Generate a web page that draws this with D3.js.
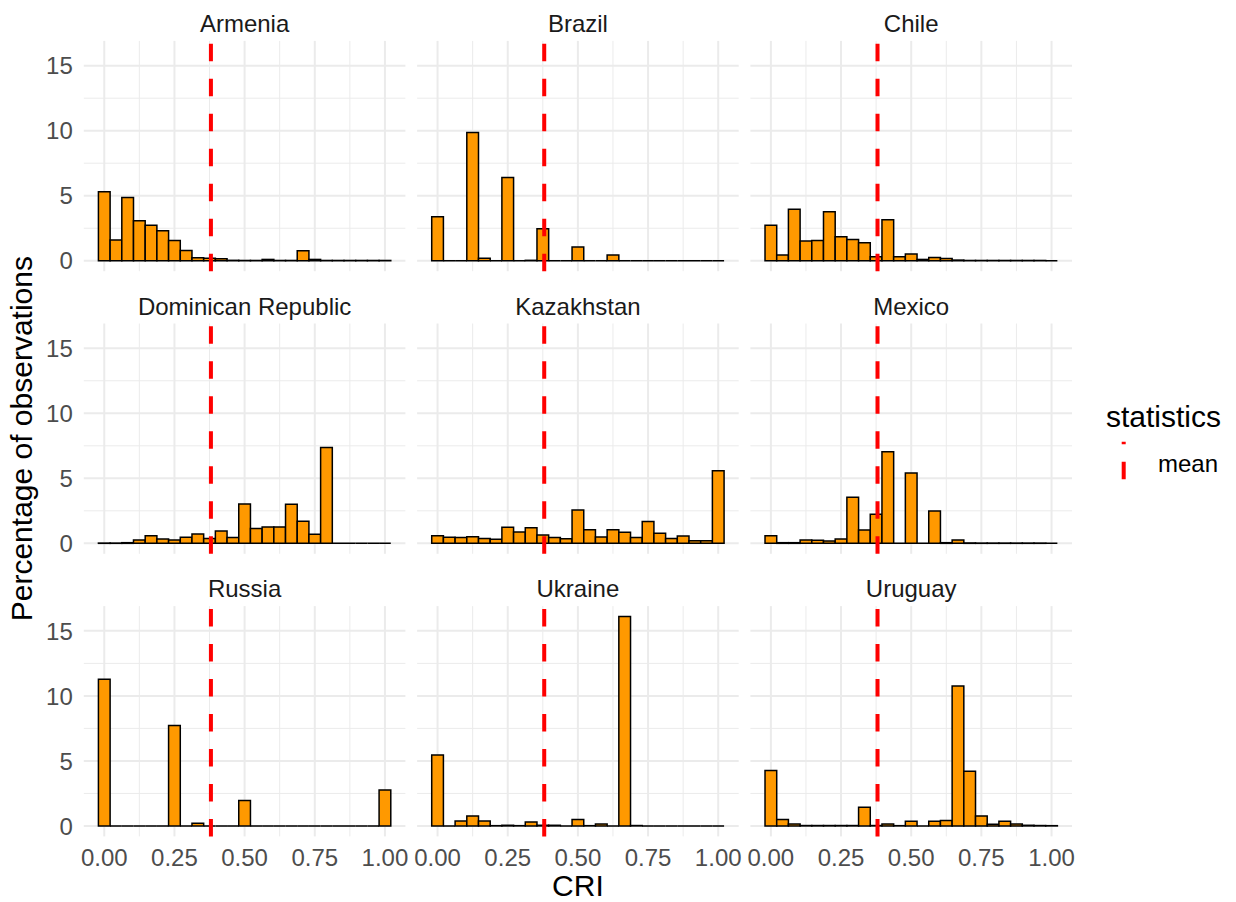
<!DOCTYPE html>
<html>
<head>
<meta charset="utf-8">
<script src="https://cdn.jsdelivr.net/npm/d3@7"></script>
<style>
  html, body { margin: 0; padding: 0; background: #fff; }
  text { font-family: "Liberation Sans", Arial, Helvetica, sans-serif; }
</style>
</head>
<body>
<svg id="chart" width="1236" height="902"></svg>
<script>
// Percentage of observations per CRI bin (25 bins, centred on 0, 1/24, ..., 1)
const countries = ["Armenia", "Brazil", "Chile", "Dominican Republic", "Kazakhstan", "Mexico", "Russia", "Ukraine", "Uruguay"];

const armenia    = [5.3, 1.6, 4.87, 3.08, 2.72, 2.31, 1.56, 0.79, 0.22, 0.2, 0.15, 0.03, 0.02, 0.02, 0.1, 0.02, 0.02, 0.77, 0.1, 0.02, 0.02, 0.02, 0.02, 0.02, 0.02];
const brazil     = [3.38, 0, 0, 9.87, 0.2, 0, 6.41, 0, 0.03, 2.46, 0, 0, 1.05, 0, 0, 0.44, 0, 0, 0, 0, 0, 0, 0, 0, 0];
const chile      = [2.72, 0.44, 3.95, 1.51, 1.56, 3.77, 1.85, 1.64, 1.38, 0.3, 3.15, 0.3, 0.51, 0.1, 0.25, 0.18, 0.05, 0.02, 0.02, 0.02, 0.02, 0.02, 0.02, 0.02, 0];
const dominican  = [0.02, 0.02, 0.05, 0.26, 0.59, 0.33, 0.26, 0.46, 0.72, 0.38, 0.95, 0.44, 3.03, 1.15, 1.26, 1.26, 3.0, 1.69, 0.69, 7.36, 0, 0, 0, 0, 0];
const kazakhstan = [0.59, 0.46, 0.44, 0.51, 0.38, 0.31, 1.23, 0.87, 1.2, 0.64, 0.44, 0.36, 2.56, 1.05, 0.49, 1.05, 0.85, 0.44, 1.67, 0.77, 0.38, 0.56, 0.2, 0.2, 5.59];
const mexico     = [0.59, 0.05, 0.05, 0.26, 0.23, 0.18, 0.33, 3.54, 1.03, 2.23, 7.05, 0, 5.41, 0, 2.49, 0.05, 0.26, 0.03, 0.02, 0.02, 0.02, 0.02, 0.02, 0.02, 0];
const russia     = [11.28, 0, 0, 0, 0, 0, 7.72, 0, 0.2, 0, 0, 0, 1.95, 0, 0, 0, 0, 0, 0, 0, 0, 0, 0, 0, 2.77];
const ukraine    = [5.46, 0, 0.38, 0.77, 0.38, 0.02, 0.05, 0.02, 0.31, 0.05, 0.05, 0, 0.49, 0.02, 0.15, 0, 16.1, 0.03, 0, 0, 0, 0, 0, 0, 0];
const uruguay    = [4.26, 0.49, 0.15, 0.03, 0.03, 0.03, 0.03, 0.03, 1.44, 0.03, 0.15, 0.02, 0.36, 0, 0.36, 0.41, 10.77, 4.2, 0.77, 0.13, 0.36, 0.15, 0.05, 0.03, 0.02];

const series = [armenia, brazil, chile, dominican, kazakhstan, mexico, russia, ukraine, uruguay];
const meanCRI = 0.38;
const nBins = 25;

const xTicks = [0, 0.25, 0.5, 0.75, 1];
const xMinor = [0.125, 0.375, 0.625, 0.875];
const yTicks = [0, 5, 10, 15];
const yMinor = [2.5, 7.5, 12.5];

const W = 1236, H = 902;
const panelW = 321.6, panelH = 230.3;
const colX = [83.8, 417.1, 750.4];
const rowY = [40.9, 323.5, 606.1];

const FILL = "#FF9900", GRID = "#EBEBEB";

const svg = d3.select("#chart");

const binW = 1 / (nBins - 1);
const lo = -binW / 2, hi = 1 + binW / 2, padX = 0.05 * (hi - lo);
const x = d3.scaleLinear().domain([lo - padX, hi + padX]).range([0, panelW]);

const yMax = d3.max(series, s => d3.max(s));
const y = d3.scaleLinear().domain([-0.05 * yMax, 1.05 * yMax]).range([panelH, 0]);

countries.forEach((name, i) => {
  const col = i % 3, row = Math.floor(i / 3);
  const g = svg.append("g").attr("transform", `translate(${colX[col]},${rowY[row]})`);

  // grid
  g.selectAll(".ymin").data(yMinor).join("line")
    .attr("x1", 0).attr("x2", panelW).attr("y1", d => y(d)).attr("y2", d => y(d))
    .attr("stroke", GRID).attr("stroke-width", 1);
  g.selectAll(".xmin").data(xMinor).join("line")
    .attr("y1", 0).attr("y2", panelH).attr("x1", d => x(d)).attr("x2", d => x(d))
    .attr("stroke", GRID).attr("stroke-width", 1);
  g.append("g").selectAll("line").data(yTicks).join("line")
    .attr("x1", 0).attr("x2", panelW).attr("y1", d => y(d)).attr("y2", d => y(d))
    .attr("stroke", GRID).attr("stroke-width", 2);
  g.append("g").selectAll("line").data(xTicks).join("line")
    .attr("y1", 0).attr("y2", panelH).attr("x1", d => x(d)).attr("x2", d => x(d))
    .attr("stroke", GRID).attr("stroke-width", 2);

  // bars (paths so empty bins still show their outline)
  g.append("g").selectAll("path").data(series[i]).join("path")
    .attr("d", (v, k) => {
      const x0 = x(k * binW - binW / 2), x1 = x(k * binW + binW / 2);
      return `M${x0},${y(0)}V${y(v)}H${x1}V${y(0)}Z`;
    })
    .attr("fill", FILL).attr("stroke", "#000").attr("stroke-width", 1.5)
    .attr("stroke-linejoin", "miter");

  // mean line
  g.append("line")
    .attr("x1", x(meanCRI)).attr("x2", x(meanCRI))
    .attr("y1", panelH).attr("y2", 0)
    .attr("stroke", "#FF0000").attr("stroke-width", 4)
    .attr("stroke-dasharray", "17.5,17.5");

  // strip
  g.append("text")
    .attr("x", panelW / 2).attr("y", -9)
    .attr("text-anchor", "middle")
    .style("font-size", "24px").style("fill", "#1A1A1A")
    .text(name);

  if (col === 0) {
    g.append("g").selectAll("text").data(yTicks).join("text")
      .attr("x", -11).attr("y", d => y(d)).attr("dy", "0.36em")
      .attr("text-anchor", "end")
      .style("font-size", "24px").style("fill", "#4D4D4D")
      .text(d => d);
  }
  if (row === 2) {
    g.append("g").selectAll("text").data(xTicks).join("text")
      .attr("x", d => x(d)).attr("y", panelH + 30)
      .attr("text-anchor", "middle")
      .style("font-size", "24px").style("fill", "#4D4D4D")
      .text(d3.format(".2f"));
  }
});

// axis titles
svg.append("text")
  .attr("x", (colX[0] + colX[2] + panelW) / 2).attr("y", 896)
  .attr("text-anchor", "middle")
  .style("font-size", "30px").style("fill", "#000")
  .text("CRI");

svg.append("text")
  .attr("transform", `translate(32,${(rowY[0] + rowY[2] + panelH) / 2}) rotate(-90)`)
  .attr("text-anchor", "middle")
  .style("font-size", "30px").style("fill", "#000")
  .text("Percentage of observations");

// legend
const lg = svg.append("g").attr("transform", "translate(1106,0)");
lg.append("text").attr("x", 0).attr("y", 426.5)
  .style("font-size", "30px").style("fill", "#000")
  .text("statistics");
lg.append("line")
  .attr("x1", 17.7).attr("x2", 17.7).attr("y1", 479.3).attr("y2", 441.7)
  .attr("stroke", "#FF0000").attr("stroke-width", 4)
  .attr("stroke-dasharray", "17.5,17.5");
lg.append("text").attr("x", 52).attr("y", 471.5)
  .style("font-size", "24px").style("fill", "#000")
  .text("mean");
</script>
</body>
</html>
